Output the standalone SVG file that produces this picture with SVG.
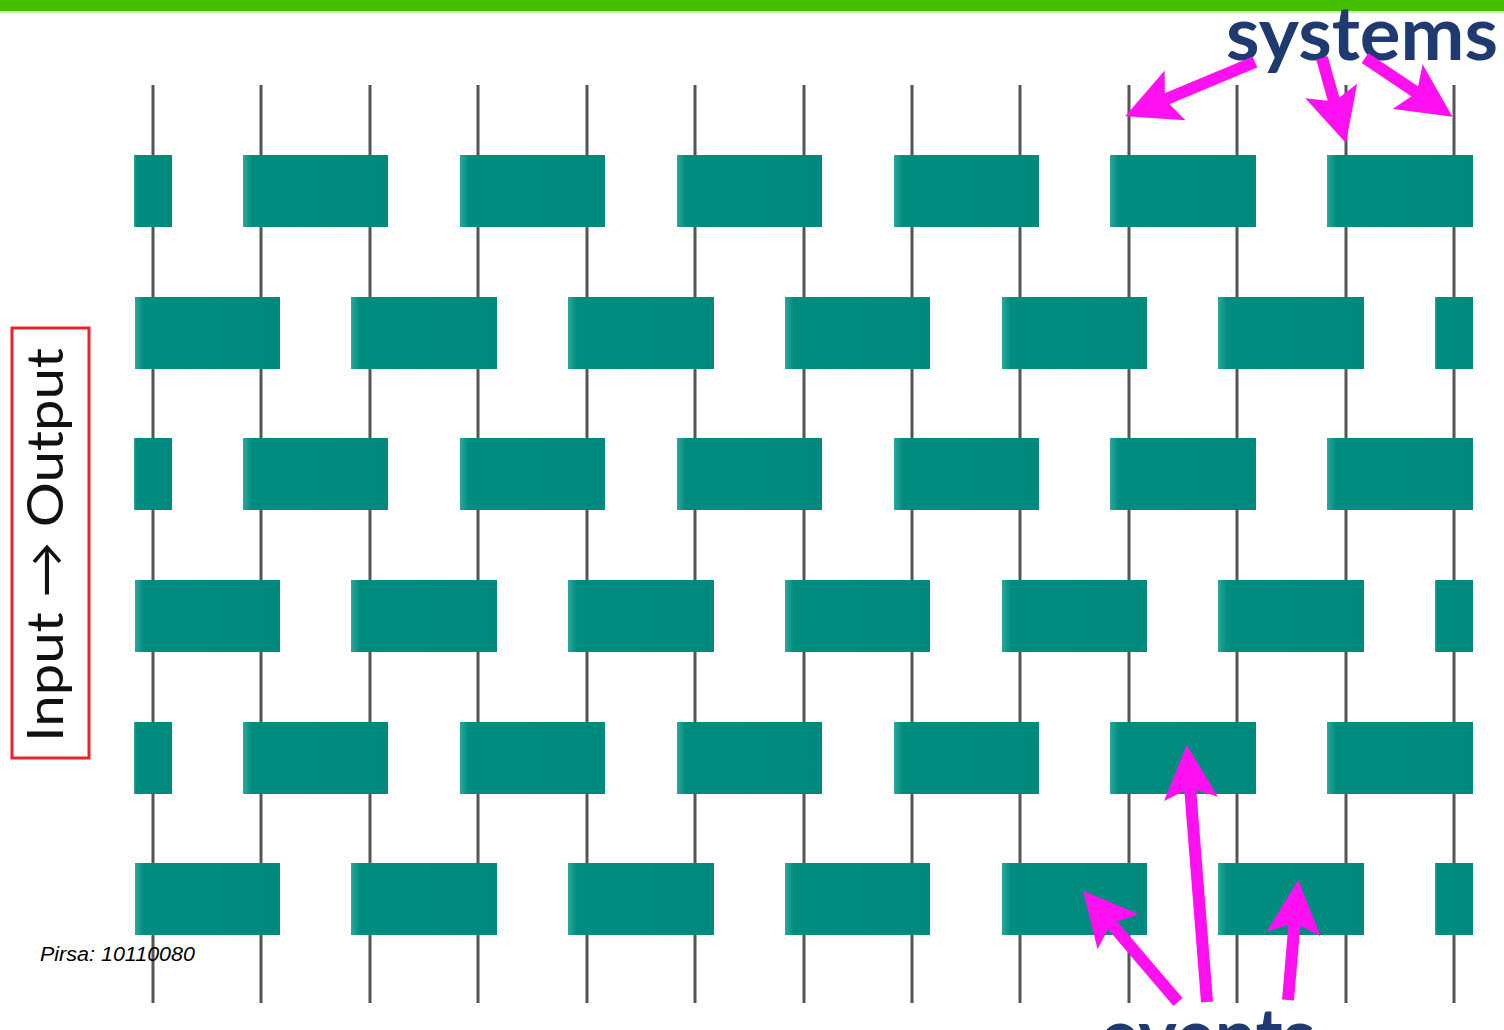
<svg xmlns="http://www.w3.org/2000/svg" width="1504" height="1030" viewBox="0 0 1504 1030">
<style>
.sys{stroke:#555;stroke-width:3;fill:none}
.blk{fill:url(#tg)}
.arr{stroke:#ff10f0;stroke-width:12;fill:none;marker-end:url(#ah)}
.lbl{font-family:Lato,"Open Sans",sans-serif;font-weight:700;fill:#1f3a70}
</style>
<defs>
<linearGradient id="tg" x1="0" y1="0" x2="1" y2="0">
<stop offset="0" stop-color="#2aa89c"/>
<stop offset="0.06" stop-color="#008d80"/>
<stop offset="1" stop-color="#008a7e"/>
</linearGradient>
<marker id="ah" viewBox="0 0 54 54" markerWidth="54" markerHeight="54" refX="16" refY="27" orient="auto" markerUnits="userSpaceOnUse">
<path d="M0,0 L54,27 L0,54 L11,27 z" fill="#ff10f0"/>
</marker>
</defs>
<rect x="0" y="0" width="1504" height="1030" fill="#fff"/>
<rect x="0" y="0" width="1504" height="11" fill="#44bf00"/>
<rect x="0" y="11" width="1504" height="2" fill="#c8eeb0"/>

<g id="connectors">
<line class="sys" x1="153" y1="85" x2="153" y2="1003"/>
<line class="sys" x1="261" y1="85" x2="261" y2="1003"/>
<line class="sys" x1="370" y1="85" x2="370" y2="1003"/>
<line class="sys" x1="478" y1="85" x2="478" y2="1003"/>
<line class="sys" x1="587" y1="85" x2="587" y2="1003"/>
<line class="sys" x1="695" y1="85" x2="695" y2="1003"/>
<line class="sys" x1="804" y1="85" x2="804" y2="1003"/>
<line class="sys" x1="912" y1="85" x2="912" y2="1003"/>
<line class="sys" x1="1020" y1="85" x2="1020" y2="1003"/>
<line class="sys" x1="1129" y1="85" x2="1129" y2="1003"/>
<line class="sys" x1="1237" y1="85" x2="1237" y2="1003"/>
<line class="sys" x1="1346" y1="85" x2="1346" y2="1003"/>
<line class="sys" x1="1454" y1="85" x2="1454" y2="1003"/>
</g>

<g id="row1">
<rect id="b1-1" class="blk" x="134" y="155" width="38" height="72"/>
<rect id="b1-2" class="blk" x="243" y="155" width="145" height="72"/>
<rect id="b1-3" class="blk" x="460" y="155" width="145" height="72"/>
<rect id="b1-4" class="blk" x="677" y="155" width="145" height="72"/>
<rect id="b1-5" class="blk" x="894" y="155" width="145" height="72"/>
<rect id="b1-6" class="blk" x="1110" y="155" width="146" height="72"/>
<rect id="b1-7" class="blk" x="1327" y="155" width="146" height="72"/>
</g>
<g id="row2">
<rect id="b2-1" class="blk" x="135" y="297" width="145" height="72"/>
<rect id="b2-2" class="blk" x="351" y="297" width="146" height="72"/>
<rect id="b2-3" class="blk" x="568" y="297" width="146" height="72"/>
<rect id="b2-4" class="blk" x="785" y="297" width="145" height="72"/>
<rect id="b2-5" class="blk" x="1002" y="297" width="145" height="72"/>
<rect id="b2-6" class="blk" x="1218" y="297" width="146" height="72"/>
<rect id="b2-7" class="blk" x="1435" y="297" width="38" height="72"/>
</g>
<g id="row3">
<rect id="b3-1" class="blk" x="134" y="438" width="38" height="72"/>
<rect id="b3-2" class="blk" x="243" y="438" width="145" height="72"/>
<rect id="b3-3" class="blk" x="460" y="438" width="145" height="72"/>
<rect id="b3-4" class="blk" x="677" y="438" width="145" height="72"/>
<rect id="b3-5" class="blk" x="894" y="438" width="145" height="72"/>
<rect id="b3-6" class="blk" x="1110" y="438" width="146" height="72"/>
<rect id="b3-7" class="blk" x="1327" y="438" width="146" height="72"/>
</g>
<g id="row4">
<rect id="b4-1" class="blk" x="135" y="580" width="145" height="72"/>
<rect id="b4-2" class="blk" x="351" y="580" width="146" height="72"/>
<rect id="b4-3" class="blk" x="568" y="580" width="146" height="72"/>
<rect id="b4-4" class="blk" x="785" y="580" width="145" height="72"/>
<rect id="b4-5" class="blk" x="1002" y="580" width="145" height="72"/>
<rect id="b4-6" class="blk" x="1218" y="580" width="146" height="72"/>
<rect id="b4-7" class="blk" x="1435" y="580" width="38" height="72"/>
</g>
<g id="row5">
<rect id="b5-1" class="blk" x="134" y="722" width="38" height="72"/>
<rect id="b5-2" class="blk" x="243" y="722" width="145" height="72"/>
<rect id="b5-3" class="blk" x="460" y="722" width="145" height="72"/>
<rect id="b5-4" class="blk" x="677" y="722" width="145" height="72"/>
<rect id="b5-5" class="blk" x="894" y="722" width="145" height="72"/>
<rect id="b5-6" class="blk" x="1110" y="722" width="146" height="72"/>
<rect id="b5-7" class="blk" x="1327" y="722" width="146" height="72"/>
</g>
<g id="row6">
<rect id="b6-1" class="blk" x="135" y="863" width="145" height="72"/>
<rect id="b6-2" class="blk" x="351" y="863" width="146" height="72"/>
<rect id="b6-3" class="blk" x="568" y="863" width="146" height="72"/>
<rect id="b6-4" class="blk" x="785" y="863" width="145" height="72"/>
<rect id="b6-5" class="blk" x="1002" y="863" width="145" height="72"/>
<rect id="b6-6" class="blk" x="1218" y="863" width="146" height="72"/>
<rect id="b6-7" class="blk" x="1435" y="863" width="38" height="72"/>
</g>

<g id="label-io">
<rect x="12" y="328" width="77" height="430" fill="none" stroke="#e8262a" stroke-width="3"/>
<text transform="translate(63,545) rotate(-90)" text-anchor="middle" font-family="Lato,'Open Sans',sans-serif" font-size="50" fill="#111" textLength="394" lengthAdjust="spacingAndGlyphs">Input → Output</text>
</g>

<g id="label-systems">
<text class="lbl" x="1226" y="60" font-size="74" textLength="272" lengthAdjust="spacingAndGlyphs">systems</text>
</g>
<g id="label-events">
<text class="lbl" x="1100" y="1062" font-size="74" textLength="215" lengthAdjust="spacingAndGlyphs">events</text>
</g>

<g id="arrows">
<line class="arr" x1="1255" y1="62" x2="1160.3" y2="101.5"/>
<line class="arr" x1="1322" y1="58" x2="1335.6" y2="106.3"/>
<line class="arr" x1="1365" y1="58" x2="1420.9" y2="95.5"/>
<line class="arr" x1="1178" y1="1002" x2="1107.7" y2="919.6"/>
<line class="arr" x1="1207" y1="1002" x2="1189.7" y2="782.9"/>
<line class="arr" x1="1288" y1="1000" x2="1295" y2="917.9"/>
</g>

<text x="40" y="961" font-family="'Liberation Sans',Arial,sans-serif" font-style="italic" font-size="20" fill="#000" textLength="155" lengthAdjust="spacingAndGlyphs">Pirsa: 10110080</text>
</svg>
